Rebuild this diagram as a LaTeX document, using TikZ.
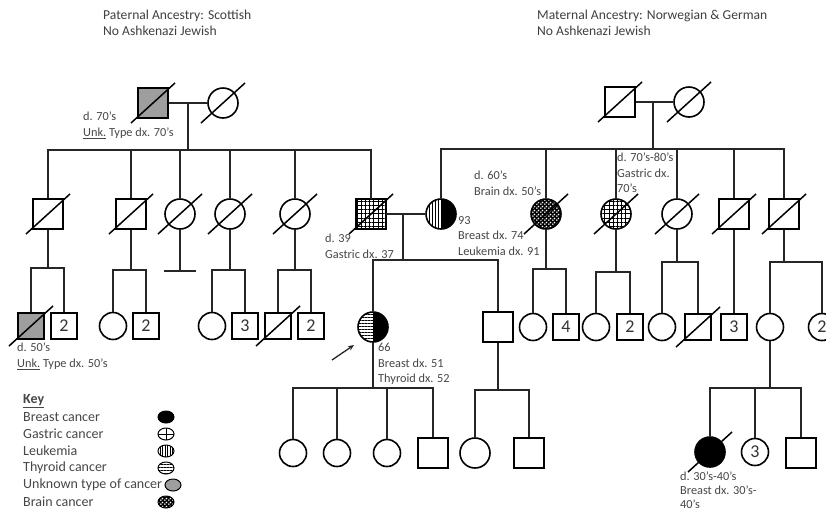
\documentclass[tikz,border=0pt]{standalone}
\usepackage{fontspec}
\setmainfont{Carlito}
\usetikzlibrary{calc,patterns,patterns.meta,shapes.geometric,arrows.meta}
\newcommand\deceased[1]{\draw[slashline] ($(#1)+(-22,20)$) -- ($(#1)+(22,-20)$);}
\newcommand\numfont{\fontsize{18}{18}\selectfont}
\pgfdeclarepatternformonly{wdots}{\pgfqpoint{0pt}{0pt}}{\pgfqpoint{4pt}{4pt}}{\pgfqpoint{4pt}{4pt}}{%
  \pgfpathcircle{\pgfqpoint{1pt}{1pt}}{1.05pt}%
  \pgfpathcircle{\pgfqpoint{3pt}{3pt}}{1.05pt}%
  \pgfusepath{fill}}
\begin{document}
\begin{tikzpicture}[x=1pt,y=-1pt,
  sym/.style={draw=black, line width=1.6pt, inner sep=0pt, text=black!80, font=\numfont},
  male/.style={sym, rectangle, minimum size=30pt},
  female/.style={sym, circle, minimum size=30pt},
  smale/.style={sym, rectangle, minimum size=26pt},
  sfemale/.style={sym, circle, minimum size=27pt},
  conn/.style={line width=1.3pt, draw=black!85},
  slashline/.style={line width=1.5pt, black},
  lbl/.style={anchor=north west, inner sep=0pt, align=left, text=black!72, font=\fontsize{12.3}{15.5}\selectfont},
  toplbl/.style={anchor=north west, inner sep=0pt, align=left, text=black!75, font=\fontsize{13.6}{16}\selectfont},
  keytxt/.style={anchor=west, inner sep=0pt, text=black!72, font=\fontsize{14}{16}\selectfont},
  keysym/.style={draw=black, ellipse, minimum width=16pt, minimum height=12pt, inner sep=0pt, line width=1pt},
  unk/.style={fill=black!38},
  gastric/.style={pattern={Hatch[angle=0,distance=4.2pt,line width=0.7pt]}},
  brain/.style={preaction={fill=black}, pattern=wdots, pattern color=white},
  breast/.style={fill=black},
  halfL/.style={path picture={
      \fill[black] (path picture bounding box.north) rectangle (path picture bounding box.south east);
      \fill[pattern={Lines[angle=90,distance=3pt,line width=0.7pt]}] (path picture bounding box.north west) rectangle (path picture bounding box.south);
      \draw[line width=1pt] (path picture bounding box.north) -- (path picture bounding box.south);}},
  halfT/.style={path picture={
      \fill[black] (path picture bounding box.north) rectangle (path picture bounding box.south east);
      \fill[pattern={Lines[angle=0,distance=3pt,line width=0.7pt]}] (path picture bounding box.north west) rectangle (path picture bounding box.south);
      \draw[line width=1pt] (path picture bounding box.north) -- (path picture bounding box.south);}},
]
\useasboundingbox[fill=white] (0,0) rectangle (826,512);

% ---------- Generation I ----------
\node[male, unk] (pgf) at (153,103) {};
\node[female] (pgm) at (223,103) {};
\node[male] (mgf) at (620,102) {};
\node[female] (mgm) at (689,102) {};

% ---------- Generation II ----------
\node[male] (pu1) at (48,214) {};
\node[male] (pu2) at (131,214) {};
\node[female] (pa1) at (180,214) {};
\node[female] (pa2) at (230,214) {};
\node[female] (pa3) at (295,214) {};
\node[male, gastric] (f) at (371,214) {};
\node[female, halfL] (m) at (441,214) {};
\node[female, brain] (ma1) at (546,214) {};
\node[female, gastric] (ma2) at (616,214) {};
\node[female] (ma3) at (677,214) {};
\node[male] (mu1) at (734,214) {};
\node[male] (mu2) at (784,214) {};

% ---------- Generation III ----------
\node[smale, unk] (pc1) at (31,326) {};
\node[smale] (pc2) at (64,326) {2};
\node[sfemale] (pc3) at (113,326) {};
\node[smale] (pc4) at (146,326) {2};
\node[sfemale] (pc5) at (212,326) {};
\node[smale] (pc6) at (245,326) {3};
\node[smale] (pc7) at (278,326) {};
\node[smale] (pc8) at (311,326) {2};
\node[female, halfT] (P) at (373,327) {};
\node[male] (B) at (498,327) {};
\node[sfemale] (mc1) at (533,327) {};
\node[smale] (mc2) at (566,327) {4};
\node[sfemale] (mc3) at (596,327) {};
\node[smale] (mc4) at (630,327) {2};
\node[sfemale] (mc5) at (662,327) {};
\node[smale] (mc6) at (698,327) {};
\node[smale] (mc7) at (734,327) {3};
\node[sfemale] (mc8) at (770,327) {};
\node[sfemale] (mc9) at (822,327) {2};

% ---------- Generation IV ----------
\node[sfemale] (pk1) at (293,453) {};
\node[sfemale] (pk2) at (337,453) {};
\node[sfemale] (pk3) at (387,453) {};
\node[male] (pk4) at (433,453) {};
\node[female] (bk1) at (475,453) {};
\node[male] (bk2) at (529,453) {};
\node[female, breast] (ck1) at (710,452) {};
\node[sfemale] (ck2) at (755,452) {3};
\node[male] (ck3) at (801,453) {};

% ---------- deceased marks ----------
\foreach \n in {pgf,pgm,mgf,mgm,pu1,pu2,pa1,pa2,pa3,f,ma1,ma2,ma3,mu1,mu2,pc1,pc7,mc6,ck1} {\deceased{\n}}

% ---------- connectors ----------
\coordinate (pm) at (188,103);
\coordinate (psib) at (188,150);
\draw[conn] (pgf) -- (pgm);
\draw[conn] (pm) -- (psib);
\draw[conn] (pu1) |- (psib) -| (f);
\foreach \n in {pu2,pa1,pa2,pa3} {\draw[conn] (\n) -- (\n |- psib);}

\coordinate (mm) at (653,102);
\coordinate (msib) at (653,149);
\draw[conn] (mgf) -- (mgm);
\draw[conn] (mm) -- (msib);
\draw[conn] (m) |- (msib) -| (mu2);
\foreach \n in {ma1,ma2,ma3,mu1} {\draw[conn] (\n) -- (\n |- msib);}

\coordinate (fm) at (403,214);
\coordinate (fmsib) at (403,260);
\draw[conn] (f) -- (m);
\draw[conn] (fm) -- (fmsib);
\draw[conn] (P) |- (fmsib) -| (B);

\coordinate (s1) at (48,268);
\draw[conn] (pu1) -- (s1);
\draw[conn] (pc1) |- (s1) -| (pc2);
\coordinate (s2) at (131,270);
\draw[conn] (pu2) -- (s2);
\draw[conn] (pc3) |- (s2) -| (pc4);
\coordinate (t1) at (180,271);
\draw[conn] (pa1) -- (t1);
\draw[conn] ($(t1)+(-16,0)$) -- ($(t1)+(16,0)$);
\coordinate (s3) at (230,270);
\draw[conn] (pa2) -- (s3);
\draw[conn] (pc5) |- (s3) -| (pc6);
\coordinate (s4) at (295,270);
\draw[conn] (pa3) -- (s4);
\draw[conn] (pc7) |- (s4) -| (pc8);

\coordinate (s5) at (546,269);
\draw[conn] (ma1) -- (s5);
\draw[conn] (mc1) |- (s5) -| (mc2);
\coordinate (s6) at (616,272);
\draw[conn] (ma2) -- (s6);
\draw[conn] (mc3) |- (s6) -| (mc4);
\coordinate (s7) at (677,262);
\draw[conn] (ma3) -- (s7);
\draw[conn] (mc5) |- (s7) -| (mc6);
\draw[conn] (mu1) -- (mc7);
\coordinate (s8) at (784,262);
\draw[conn] (mu2) -- (s8);
\draw[conn] (mc8) |- (s8) -| (mc9);

\coordinate (s9) at (373,388);
\draw[conn] (P) -- (s9);
\draw[conn] (pk1) |- (s9) -| (pk4);
\foreach \n in {pk2,pk3} {\draw[conn] (\n) -- (\n |- s9);}
\coordinate (s10) at (498,390);
\draw[conn] (B) -- (s10);
\draw[conn] (bk1) |- (s10) -| (bk2);
\coordinate (s11) at (770,388);
\draw[conn] (mc8) -- (s11);
\draw[conn] (ck1) |- (s11) -| (ck3);
\draw[conn] (ck2) -- (ck2 |- s11);

% proband arrow
\coordinate (arrA) at (332,360);
\coordinate (arrB) at (354,345);
\draw[conn, -{Stealth[length=6pt,width=5pt]}] (arrA) -- (arrB);

% ---------- labels ----------
\node[toplbl] (tp) at (103,10) {Paternal Ancestry: Scottish\\No Ashkenazi Jewish};
\node[toplbl] (tm) at (537,10) {Maternal Ancestry: Norwegian \& German\\No Ashkenazi Jewish};
\node[lbl] (lpgf) at (83,112) {d. 70’s\\\underline{Unk.} Type dx. 70’s};
\node[lbl] (lf) at (325,234) {d. 39\\Gastric dx. 37};
\node[lbl] (lm) at (458,216) {93\\Breast dx. 74\\Leukemia dx. 91};
\node[lbl] (lma1) at (474,171) {d. 60’s\\Brain dx. 50’s};
\node[lbl] (lma2) at (617,153) {d. 70’s-80’s\\Gastric dx.\\70’s};
\node[lbl] (lpc1) at (17,343) {d. 50’s\\\underline{Unk.} Type dx. 50’s};
\node[lbl] (lP) at (378,343) {66\\Breast dx. 51\\Thyroid dx. 52};
\node[lbl, font=\fontsize{12.3}{14}\selectfont] (lck1) at (680,472) {d. 30’s-40’s\\Breast dx. 30’s-\\40’s};

% ---------- key ----------
\node[keytxt, font=\fontsize{14}{16}\selectfont\bfseries] (kt) at (23,401) {\underline{Key}};
\node[keytxt] (k1) at (23,417) {Breast cancer};
\node[keytxt] (k2) at (23,434) {Gastric cancer};
\node[keytxt] (k3) at (23,451) {Leukemia};
\node[keytxt] (k4) at (23,468) {Thyroid cancer};
\node[keytxt] (k5) at (23,485) {Unknown type of cancer};
\node[keytxt] (k6) at (23,502) {Brain cancer};
\node[keysym, fill=black] (ks1) at (166,417) {};
\node[keysym, path picture={\draw[line width=0.8pt] (path picture bounding box.north) -- (path picture bounding box.south); \draw[line width=0.8pt] (path picture bounding box.west) -- (path picture bounding box.east);}] (ks2) at (166,434) {};
\node[keysym, pattern={Lines[angle=90,distance=2.5pt,line width=0.6pt]}] (ks3) at (166,451) {};
\node[keysym, pattern={Lines[angle=0,distance=3pt,line width=0.7pt]}] (ks4) at (166,468) {};
\node[keysym, fill=black!38] (ks5) at (173,485) {};
\node[keysym, brain] (ks6) at (166,502) {};
\end{tikzpicture}
\end{document}
